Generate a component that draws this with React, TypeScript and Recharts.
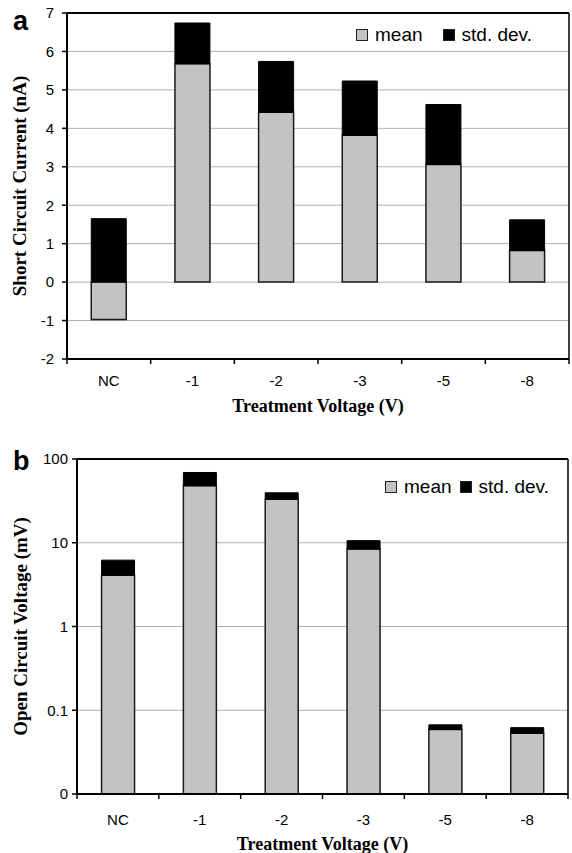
import React from 'react';
import { BarChart, Bar, XAxis, YAxis, CartesianGrid, Legend, ReferenceLine } from 'recharts';

const voltages = ['NC', '-1', '-2', '-3', '-5', '-8'];

// (a) short circuit current, nA
const iscMean = [-0.97, 5.68, 4.42, 3.82, 3.06, 0.82];
const iscStd = [1.65, 1.06, 1.32, 1.41, 1.56, 0.8];

// (b) open circuit voltage, mV
const vocMean = [4.1, 48, 33, 8.4, 0.059, 0.053];
const vocStd = [2.1, 21, 6.5, 2.2, 0.008, 0.009];

const iscTicks = [-2, -1, 0, 1, 2, 3, 4, 5, 6, 7];
const vocTicks = [0.01, 0.1, 1, 10, 100];

const GREY = '#c3c3c3';
const GRID = '#b0b0b0';
const OUTLINE = '#1a1a1a';
const SANS = 'Arial, "Liberation Sans", sans-serif';
const SERIF = '"Times New Roman", "Liberation Serif", serif';

const iscData = voltages.map((v, i) => ({ v, mean: iscMean[i], sd: iscStd[i] }));
const vocData = voltages.map((v, i) => ({ v, mean: vocMean[i], sd: vocStd[i] }));

const tickStyle = { fill: '#000', fontSize: 15, fontFamily: SANS };
const axisTitle = { fill: '#000', fontSize: 19, fontWeight: 700, fontFamily: SERIF, textAnchor: 'middle' as const };
const blackLine = { stroke: '#000', strokeWidth: 2 };
const blackTick = { stroke: '#000', strokeWidth: 1.5 };
const TICK_SIZE = 5;

// category label in the middle, tick marks on the band edges (Excel style)
const slotTick = (margin: number) => (props: any) => {
  const { x, y, payload, index, visibleTicksCount } = props;
  const half = payload.offset || 0;
  const axisY = y - TICK_SIZE - margin;
  const mark = (mx: number) => (
    <line x1={mx} x2={mx} y1={axisY} y2={axisY + TICK_SIZE} stroke="#000" strokeWidth={1.5} />
  );
  return (
    <g>
      {mark(x - half)}
      {index === visibleTicksCount - 1 && mark(x + half)}
      <text x={x} y={y} dy="0.71em" textAnchor="middle" {...tickStyle}>{payload.value}</text>
    </g>
  );
};

const legendContent = (gap: number) => (props: any) => (
  <div style={{ display: 'flex', alignItems: 'center', fontFamily: SANS, fontSize: 19, lineHeight: '22px', color: '#000' }}>
    {(props.payload || []).map((p: any, i: number) => (
      <div key={i} style={{ display: 'flex', alignItems: 'center', marginLeft: i ? gap : 0 }}>
        <span style={{ display: 'inline-block', width: 10, height: 10, background: p.color, border: '1px solid #222', marginRight: 7 }} />
        <span>{p.value}</span>
      </div>
    ))}
  </div>
);

const panelLetter = (top: number): React.CSSProperties => ({
  position: 'absolute', left: 13, top, fontFamily: SANS, fontWeight: 700, fontSize: 27, lineHeight: 1,
});

export default function App() {
  return (
    <div style={{ position: 'absolute', left: 0, top: 0, width: 572, height: 853, background: '#fff', overflow: 'hidden' }}>
      <div style={panelLetter(8)}>a</div>
      <BarChart width={572} height={420} data={iscData} stackOffset="sign" barCategoryGap="29%"
        margin={{ top: 13, right: 3, bottom: 0, left: 0 }}>
        <CartesianGrid vertical={false} stroke={GRID} />
        <XAxis dataKey="v" height={61} interval={0} axisLine={blackLine} tickLine={false} tickSize={TICK_SIZE}
          tickMargin={11} tick={slotTick(11)}
          label={{ value: 'Treatment Voltage (V)', position: 'insideBottom', offset: 8, style: { ...axisTitle, fontSize: 18 } }} />
        <YAxis width={67} domain={[-2, 7]} ticks={iscTicks} interval={0} tick={tickStyle} tickSize={TICK_SIZE} tickMargin={8}
          axisLine={blackLine} tickLine={blackTick}
          label={{ value: 'Short Circuit Current (nA)', angle: -90, position: 'insideLeft', offset: 19, style: axisTitle }} />
        <ReferenceLine y={7} stroke="#000" strokeWidth={2} />
        <ReferenceLine x="-8" position="end" stroke="#000" strokeWidth={1.5} />
        <Bar dataKey="mean" name="mean" stackId="s" fill={GREY} stroke={OUTLINE} strokeWidth={1.5} isAnimationActive={false} />
        <Bar dataKey="sd" name="std. dev." stackId="s" fill="#000" stroke="#000" strokeWidth={1} isAnimationActive={false} />
        <Legend verticalAlign="middle" align="center" layout="horizontal" content={legendContent(20)}
          wrapperStyle={{ position: 'absolute', top: 24, left: 356, width: 'auto' }} />
      </BarChart>

      <div style={panelLetter(448)}>b</div>
      <BarChart width={572} height={433} data={vocData} barCategoryGap="30%"
        margin={{ top: 39, right: 4, bottom: 0, left: 0 }}>
        <CartesianGrid vertical={false} stroke={GRID} />
        <XAxis dataKey="v" height={59} interval={0} axisLine={blackLine} tickLine={false} tickSize={TICK_SIZE}
          tickMargin={15} tick={slotTick(15)}
          label={{ value: 'Treatment Voltage (V)', position: 'insideBottom', offset: 3, style: { ...axisTitle, fontSize: 18 } }} />
        {/* second band axis so the std. dev. cap overlays the mean bar */}
        <XAxis xAxisId="cap" dataKey="v" hide />
        <YAxis width={77} scale="log" domain={[0.01, 100]} allowDataOverflow ticks={vocTicks} interval={0}
          tickFormatter={(t: number) => (t === 0.01 ? '0' : String(t))}
          tick={tickStyle} tickSize={TICK_SIZE} tickMargin={4} axisLine={blackLine} tickLine={blackTick}
          label={{ value: 'Open Circuit Voltage (mV)', angle: -90, position: 'insideLeft', offset: 20, style: axisTitle }} />
        <ReferenceLine y={100} stroke="#000" strokeWidth={2} />
        <ReferenceLine x="-8" position="end" stroke="#000" strokeWidth={1.5} />
        <Bar dataKey="mean" name="mean" fill={GREY} stroke={OUTLINE} strokeWidth={1.5} isAnimationActive={false} />
        <Bar xAxisId="cap" dataKey={(d: any) => [d.mean, d.mean + d.sd]} name="std. dev." fill="#000" stroke="#000"
          strokeWidth={1} isAnimationActive={false} />
        <Legend verticalAlign="middle" align="center" layout="horizontal" content={legendContent(8)}
          wrapperStyle={{ position: 'absolute', top: 56, left: 385, width: 'auto' }} />
      </BarChart>
    </div>
  );
}
